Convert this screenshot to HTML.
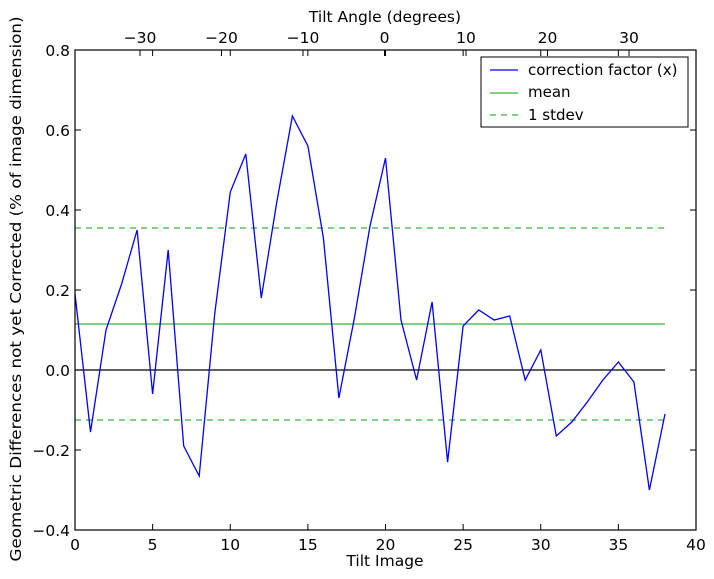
<!DOCTYPE html>
<html><head><meta charset="utf-8"><style>
html,body{margin:0;padding:0;background:#fff;}
svg{display:block;font-family:"DejaVu Sans","Liberation Sans",sans-serif;}
</style></head><body>
<svg id="s" width="714" height="579" xmlns="http://www.w3.org/2000/svg">
<rect width="714" height="579" fill="#fff"/>
<line x1="75" y1="370" x2="665" y2="370" stroke="#000" stroke-width="1.3"/>
<line x1="75" y1="324" x2="665" y2="324" stroke="#3cb043" stroke-width="1.2"/>
<line x1="75" y1="228" x2="665" y2="228" stroke="#3cb043" stroke-width="1.2" stroke-dasharray="6,5"/>
<line x1="75" y1="420" x2="665" y2="420" stroke="#3cb043" stroke-width="1.2" stroke-dasharray="6,5"/>
<polyline id="p" fill="none" stroke="#0000ff" stroke-width="1.3" points=""/>
<rect x="75" y="50" width="621" height="480" fill="none" stroke="#000" stroke-width="1.2"/>
<g id="ticks" stroke="#000" stroke-width="1"></g>
<g font-size="15.5" fill="#000">
<text x="75" y="550" text-anchor="middle">0</text>
<text x="152.6" y="550" text-anchor="middle">5</text>
<text x="230.3" y="550" text-anchor="middle">10</text>
<text x="307.9" y="550" text-anchor="middle">15</text>
<text x="385.5" y="550" text-anchor="middle">20</text>
<text x="463.1" y="550" text-anchor="middle">25</text>
<text x="540.8" y="550" text-anchor="middle">30</text>
<text x="618.4" y="550" text-anchor="middle">35</text>
<text x="696" y="550" text-anchor="middle">40</text>
<text x="70" y="56" text-anchor="end">0.8</text>
<text x="70" y="136" text-anchor="end">0.6</text>
<text x="70" y="216" text-anchor="end">0.4</text>
<text x="70" y="296" text-anchor="end">0.2</text>
<text x="70" y="376" text-anchor="end">0.0</text>
<text x="70" y="456" text-anchor="end">−0.2</text>
<text x="70" y="536" text-anchor="end">−0.4</text>
<text x="140" y="43" text-anchor="middle">−30</text>
<text x="221.5" y="43" text-anchor="middle">−20</text>
<text x="303" y="43" text-anchor="middle">−10</text>
<text x="384.5" y="43" text-anchor="middle">0</text>
<text x="466" y="43" text-anchor="middle">10</text>
<text x="547.5" y="43" text-anchor="middle">20</text>
<text x="629" y="43" text-anchor="middle">30</text>
<text x="385" y="566" text-anchor="middle">Tilt Image</text>
<text x="385" y="22" text-anchor="middle">Tilt Angle (degrees)</text>
<text transform="translate(21,289) rotate(-90)" text-anchor="middle" textLength="545" lengthAdjust="spacingAndGlyphs">Geometric Differences not yet Corrected (% of image dimension)</text>
</g>
<g font-size="15">
<rect x="481" y="57" width="207" height="70" fill="#fff" stroke="#000" stroke-width="1"/>
<line x1="490" y1="70" x2="518" y2="70" stroke="#0000ff" stroke-width="1.3"/>
<line x1="490" y1="93" x2="518" y2="93" stroke="#3cb043" stroke-width="1.2"/>
<line x1="490" y1="115" x2="518" y2="115" stroke="#3cb043" stroke-width="1.2" stroke-dasharray="6,5"/>
<text x="528" y="75">correction factor (x)</text>
<text x="528" y="97">mean</text>
<text x="528" y="120">1 stdev</text>
</g>
</svg>
<script>
var d=[0.19,-0.155,0.10,0.215,0.35,-0.06,0.30,-0.19,-0.265,0.14,0.445,0.54,0.18,0.42,0.635,0.56,0.33,-0.07,0.13,0.36,0.53,0.125,-0.025,0.17,-0.23,0.11,0.15,0.125,0.135,-0.025,0.05,-0.165,-0.13,-0.08,-0.025,0.02,-0.03,-0.30,-0.11];
document.getElementById('p').setAttribute('points',d.map(function(v,i){return (75+i*15.525).toFixed(1)+','+(370-v*400).toFixed(1);}).join(' '));
var g=document.getElementById('ticks'),h='';
for(var i=0;i<=40;i+=5){var x=75+i*15.525;h+='<line x1="'+x+'" y1="530" x2="'+x+'" y2="524"/><line x1="'+x+'" y1="50" x2="'+x+'" y2="56"/>';}
for(var v=-0.4;v<=0.81;v+=0.2){var y=370-v*400;h+='<line x1="75" y1="'+y+'" x2="81" y2="'+y+'"/><line x1="696" y1="'+y+'" x2="690" y2="'+y+'"/>';}
for(var a=-30;a<=30;a+=10){var x=384.5+a*8.15;h+='<line x1="'+x+'" y1="50" x2="'+x+'" y2="56"/>';}
g.innerHTML=h;
</script>
</body></html>
